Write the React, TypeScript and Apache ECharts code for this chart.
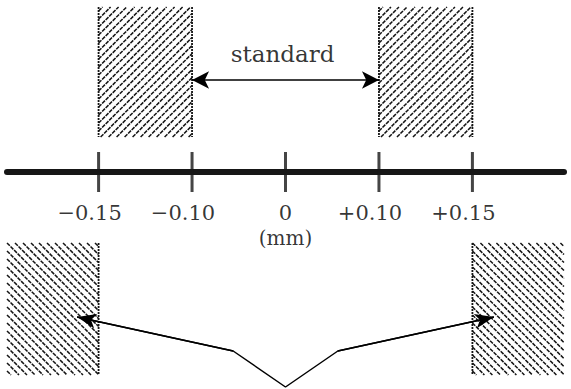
import React, { useEffect, useRef } from "react";
import * as echarts from "echarts";

// Axis positions (diagram is drawn with evenly spaced marks, not to scale)
const tickPositions = [-2, -1, 0, 1, 2];
const tickLabels = ["\u22120.15", "\u22120.10", "0", "+0.10", "+0.15"];
const tickLabelLevel = -41;
const unitLabel = "(mm)";
const standardLabel = "standard";

// Standard (acceptable) tolerance bands above the axis: [from, to]
const upperBands = [
  [-2, -1],
  [1, 2],
];
const upperBandHeight = [35, 165];

// Out-of-tolerance bands below the axis: [from, to]
const lowerBands = [
  [-2.98, -2],
  [2, 2.98],
];
const lowerBandHeight = [-71, -203];

// Double arrow marking the standard range
const standardArrow = [
  [-1, 92],
  [1, 92],
];
const standardTextPos = [0, 118];
const unitTextPos = [0, -66];

// Pointer polyline below the axis
const pointerPath = [
  [-2.23, -145],
  [-0.56, -179],
  [0, -215],
  [0.56, -179],
  [2.23, -145],
];

const X_MIN = -2.98;
const X_MAX = 2.98;
const Y_MIN = -217;
const Y_MAX = 172;

const SERIF = "DejaVu Serif";
const INK = "#000000";

function makeHatchRenderer(dir: number, upper: boolean) {
  return (params: any, api: any) => {
    const x0 = api.value(0);
    const x1 = api.value(1);
    const yt = api.value(2);
    const yb = api.value(3);
    const a = api.coord([x0, yt]);
    const b = api.coord([x1, yb]);
    const L = Math.min(a[0], b[0]);
    const R = Math.max(a[0], b[0]);
    const T = Math.min(a[1], b[1]);
    const B = Math.max(a[1], b[1]);
    const step = 8;
    const children: any[] = [];
    const hatchStyle = { stroke: "#141414", lineWidth: 1.5, lineDash: [4, 1] };
    if (dir === 1) {
      for (let c = L + T + step / 2; c < R + B; c += step) {
        const xs = Math.max(L, c - B);
        const xe = Math.min(R, c - T);
        if (xe > xs)
          children.push({
            type: "line",
            shape: { x1: xs, y1: c - xs, x2: xe, y2: c - xe },
            style: hatchStyle,
          });
      }
    } else {
      for (let c = L - B + step / 2; c < R - T; c += step) {
        const xs = Math.max(L, c + T);
        const xe = Math.min(R, c + B);
        if (xe > xs)
          children.push({
            type: "line",
            shape: { x1: xs, y1: xs - c, x2: xe, y2: xe - c },
            style: hatchStyle,
          });
      }
    }
    const borderStyle = { stroke: "#141414", lineWidth: 1.8, lineDash: [2, 1] };
    const leftBorder = upper || x0 >= 0;
    const rightBorder = upper || x1 <= 0;
    if (leftBorder)
      children.push({ type: "line", shape: { x1: L, y1: T, x2: L, y2: B }, style: borderStyle });
    if (rightBorder)
      children.push({ type: "line", shape: { x1: R, y1: T, x2: R, y2: B }, style: borderStyle });
    return { type: "group", children };
  };
}

export default function App() {
  const ref = useRef<HTMLDivElement>(null);
  useEffect(() => {
    if (!ref.current) return;
    const chart = echarts.init(ref.current, null, { renderer: "svg" });
    const option: any = {
      animation: false,
      backgroundColor: "#ffffff",
      grid: { left: 7, right: 7, top: 0, bottom: 0, outerBoundsMode: "none", containLabel: false },
      xAxis: {
        type: "value",
        min: X_MIN,
        max: X_MAX,
        splitLine: { show: false },
        axisTick: { show: false },
        axisLabel: { show: false },
        axisLine: { show: true, onZero: true, lineStyle: { color: "#161616", width: 6 } },
      },
      yAxis: {
        type: "value",
        min: Y_MIN,
        max: Y_MAX,
        show: false,
        splitLine: { show: false },
      },
      series: [
        {
          type: "custom",
          name: "standard bands",
          renderItem: makeHatchRenderer(1, true),
          data: upperBands.map((b) => [b[0], b[1], upperBandHeight[1], upperBandHeight[0]]),
          clip: false,
          silent: true,
          z: 1,
        },
        {
          type: "custom",
          name: "reject bands",
          renderItem: makeHatchRenderer(-1, false),
          data: lowerBands.map((b) => [b[0], b[1], lowerBandHeight[0], lowerBandHeight[1]]),
          clip: false,
          silent: true,
          z: 1,
        },
        {
          type: "scatter",
          name: "ticks",
          data: tickPositions.map((p) => [p, 0]),
          symbol: "rect",
          symbolSize: [3, 40],
          itemStyle: { color: "#161616" },
          silent: true,
          z: 5,
        },
        {
          type: "scatter",
          name: "tick labels",
          data: tickPositions.map((p, i) => ({
            value: [p, tickLabelLevel],
            label: { formatter: tickLabels[i], offset: [p === 0 ? 0 : -9, 0] },
          })),
          symbolSize: 0,
          label: {
            show: true,
            position: "inside",
            fontFamily: SERIF,
            fontSize: 21,
            color: INK,
          },
          silent: true,
          z: 6,
        },
        {
          type: "scatter",
          name: "texts",
          data: [
            { value: standardTextPos, label: { formatter: standardLabel, fontSize: 23, offset: [-3, 0] } },
            { value: unitTextPos, label: { formatter: unitLabel, fontSize: 20 } },
          ],
          symbolSize: 0,
          label: {
            show: true,
            position: "inside",
            fontFamily: SERIF,
            color: INK,
          },
          silent: true,
          z: 6,
        },
        {
          type: "line",
          name: "pointer",
          data: pointerPath,
          showSymbol: false,
          symbol: "none",
          lineStyle: { color: INK, width: 1.5 },
          silent: true,
          z: 4,
          markLine: {
            silent: true,
            symbol: ["none", "arrow"],
            symbolSize: [11, 19],
            label: { show: false },
            lineStyle: { type: "solid", color: INK, width: 1.5 },
            emphasis: { disabled: true },
            data: [
              [{ coord: pointerPath[1] }, { coord: pointerPath[0] }],
              [{ coord: pointerPath[3] }, { coord: pointerPath[4] }],
            ],
          },
        },
        {
          type: "line",
          name: "standard arrow",
          data: standardArrow,
          showSymbol: false,
          symbol: "none",
          lineStyle: { color: INK, width: 0 },
          silent: true,
          z: 4,
          markLine: {
            silent: true,
            symbol: ["arrow", "arrow"],
            symbolSize: [13, 17],
            label: { show: false },
            lineStyle: { type: "solid", color: INK, width: 1.6 },
            emphasis: { disabled: true },
            data: [[{ coord: standardArrow[0] }, { coord: standardArrow[1] }]],
          },
        },
      ],
    };
    chart.setOption(option);
    return () => chart.dispose();
  }, []);
  return (
    <div
      ref={ref}
      style={{ position: "fixed", left: 0, top: 0, width: 571, height: 389, background: "#fff" }}
    />
  );
}
